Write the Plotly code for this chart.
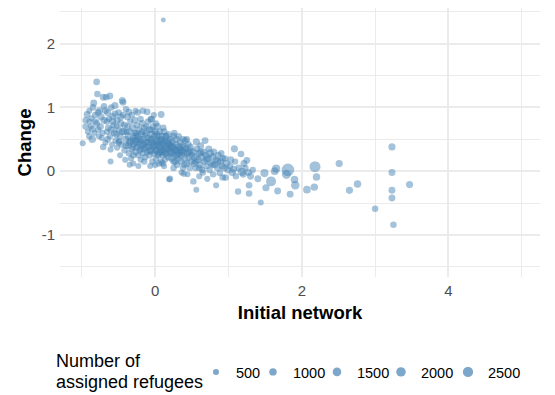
import plotly.graph_objects as go
import math

# (initial network, change, number of assigned refugees)
initial_network = [
    -0.99, -0.93, -0.95, -0.90, -0.88, -0.92, -0.86, -0.85, -0.84, -0.80, -0.79, -0.82, -0.80, -0.78, -0.76, -0.74,
    -0.72, -0.71, -0.73, -0.70, -0.71, -0.77, -0.83, -0.87, -0.90,
    -0.67, -0.62, -0.65, -0.66, -0.64, -0.62, -0.61, -0.61, -0.60, -0.58, -0.57, -0.56, -0.55, -0.54, -0.52, -0.52,
    -0.50, -0.50, -0.48, -0.48, -0.47, -0.46, -0.45, -0.44, -0.44, -0.43, -0.42, -0.41, -0.40, -0.40, -0.68, -0.66,
    -0.59, -0.63, -0.53, -0.49,
    -0.38, -0.38, -0.37, -0.37, -0.36, -0.36, -0.35, -0.34, -0.34, -0.33, -0.32, -0.32, -0.31, -0.30, -0.30, -0.29,
    -0.28, -0.28, -0.27, -0.26, -0.25, -0.25, -0.24, -0.24, -0.23, -0.22, -0.22, -0.21, -0.20, -0.20, -0.19, -0.18,
    -0.18, -0.17, -0.17, -0.16, -0.15, -0.15, -0.14, -0.13, -0.12, -0.11, -0.11, -0.10, -0.10, -0.39, -0.35, -0.27,
    -0.23, -0.19, -0.14, -0.26, -0.31,
    -0.09, -0.08, -0.08, -0.07, -0.06, -0.06, -0.05, -0.05, -0.04, -0.04, -0.03, -0.03, -0.02, -0.01, 0.00, 0.00,
    0.01, 0.02, 0.02, 0.03, 0.04, 0.04, 0.05, 0.06, 0.06, 0.07, 0.08, 0.08, 0.08, 0.09, 0.10, 0.10, 0.11, 0.11,
    0.12, 0.12, 0.13, 0.13, 0.14, 0.15, 0.15, 0.16, 0.17, 0.18, 0.18, 0.19, 0.19, 0.20, -0.02, 0.01, 0.05, 0.12,
    -0.07,
    0.20, 0.21, 0.22, 0.22, 0.23, 0.24, 0.25, 0.25, 0.26, 0.27, 0.28, 0.28, 0.29, 0.30, 0.30, 0.31, 0.32, 0.33,
    0.34, 0.35, 0.35, 0.36, 0.37, 0.38, 0.39, 0.39, 0.40, 0.41, 0.42, 0.43, 0.44, 0.45, 0.46, 0.47, 0.48, 0.49,
    0.50, 0.26, 0.32, 0.38, 0.43, 0.36, 0.44,
    0.52, 0.52, 0.53, 0.54, 0.55, 0.56, 0.56, 0.57, 0.58, 0.60, 0.61, 0.62, 0.63, 0.64, 0.65, 0.66, 0.67, 0.68,
    0.69, 0.70, 0.72, 0.73, 0.74, 0.75, 0.76, 0.78, 0.79, 0.80, 0.81, 0.83, 0.83, 0.85, 0.86, 0.88, 0.89, 0.90,
    0.91, 0.92, 0.94, 0.95, 0.96, 0.97, 0.99, 0.60, 0.71,
    1.02, 1.03, 1.05, 1.07, 1.08, 1.09, 1.10, 1.13, 1.14, 1.17, 1.18, 1.20, 1.21, 1.23, 1.25, 1.27, 1.28, 1.28,
    1.30, 1.33, 1.44, 1.40,
    1.49, 1.51, 1.58, 1.63, 1.65, 1.67, 1.79, 1.81, 1.84, 1.90, 1.91, 2.07, 2.17, 2.20, 2.18, 2.51, 2.65, 2.76,
    3.00, 3.23, 3.23, 3.23, 3.23, 3.25, 3.47,
    -0.35, -0.30, -0.27, -0.22, -0.20, -0.16, -0.12, -0.10, -0.08, -0.05, -0.02, 0.00, 0.03, 0.05, 0.07,
    0.09, 0.11, 0.14, 0.16, 0.18, 0.20, 0.22, 0.24, 0.27, 0.30, 0.33, 0.36, 0.40, 0.45,
    -0.25, -0.18, -0.12, -0.05, 0.02, 0.08, 0.14, -0.30, -0.15, 0.00, 0.10, 0.25, 0.40,
    -0.95, -0.90, -0.86, -0.82, -0.78, -0.75, -0.70, -0.68, -0.65, -0.60, -0.58, -0.55, -0.53, -0.50, -0.47,
    -0.45, -0.42, -0.40,
    0.55, 0.62, 0.70, 0.78, 0.85, 0.92, 0.60, 0.48,
]
change = [
    0.44, 0.89, 0.80, 0.78, 0.70, 0.62, 0.50, 1.00, 1.07, 1.40, 1.21, 0.88, 0.75, 0.65, 0.95, 0.85,
    0.60, 0.38, 0.52, 1.02, 1.16, 0.55, 0.60, 0.83, 0.95,
    1.16, 1.18, 0.92, 0.78, 0.68, 0.55, 0.34, 0.15, 1.00, 0.86, 0.72, 0.60, 1.03, 0.48, 0.37, 0.80,
    0.92, 0.65, 0.55, 0.25, 0.75, 0.42, 1.11, 1.08, 0.88, 0.62, 0.33, 0.18, 0.50, 0.97, 0.45, 0.62,
    0.42, 0.82, 0.70, 0.47,
    0.85, 0.70, 0.55, 0.40, 0.93, 0.28, 0.62, 0.78, 0.47, 0.20, 0.88, 0.35, 0.68, 0.52, 0.12, 0.42,
    0.80, 0.60, 0.30, 0.48, 0.72, 0.38, 0.92, 0.55, 0.25, 0.65, 0.44, 0.33, 0.82, 0.18, 0.58, 0.75,
    0.40, 0.95, 0.28, 0.50, 0.68, 0.35, 0.22, 0.45, 0.60, 0.93, 0.30, 0.78, 0.52, 0.62, 0.10, 0.95,
    0.08, 0.48, 0.57, 0.60, 0.48,
    0.40, 0.65, 0.25, 0.50, 0.82, 0.33, 0.81, 0.58, 0.45, 0.15, 0.70, 0.38, 0.28, 0.55, 0.42, 0.62,
    0.20, 0.48, 0.33, 0.70, 0.55, 0.25, 0.40, 0.62, 0.30, 0.48, 0.89, 0.35, 0.15, 0.55, 0.42, 0.25, 2.37, 0.68,
    0.62, 0.32, 0.48, 0.18, 0.38, 0.55, 0.27, 0.45, 0.35, 0.58, 0.22, 0.42, -0.13, 0.30, 0.88, 0.75, 0.12, 0.08,
    0.08,
    -0.12, 0.50, 0.38, 0.20, 0.45, 0.28, 0.05, 0.55, 0.35, 0.15, 0.42, 0.25, 0.50, 0.32, 0.10, 0.20, 0.38, 0.28,
    0.45, 0.15, 0.33, 0.25, 0.40, 0.05, -0.04, 0.30, 0.20, 0.48, 0.35, 0.12, 0.28, 0.42, 0.22, 0.05, 0.32, 0.15,
    0.25, 0.60, 0.55, 0.50, 0.50, -0.02, -0.05,
    -0.16, 0.30, 0.12, 0.22, 0.05, 0.46, -0.29, 0.35, 0.18, 0.28, 0.10, 0.40, 0.22, 0.02, -0.02, 0.30, 0.15, 0.48,
    0.25, 0.08, 0.20, 0.35, 0.02, 0.28, 0.12, 0.22, -0.05, 0.30, 0.10, -0.22, 0.18, 0.05, 0.25, -0.03, 0.15, 0.28,
    0.08, -0.10, 0.05, 0.20, -0.10, 0.12, 0.02, -0.08, -0.12,
    0.08, 0.18, -0.02, 0.03, 0.35, 0.15, -0.08, -0.32, 0.05, 0.27, -0.01, -0.05, 0.12, 0.05, 0.17, -0.02, -0.22, -0.35,
    -0.08, 0.02, -0.49, -0.12,
    -0.03, -0.26, -0.16, 0.00, 0.04, -0.31, -0.05, 0.02, -0.36, -0.13, -0.22, -0.29, -0.25, -0.09, 0.07, 0.12, -0.30, -0.20,
    -0.59, 0.38, -0.02, -0.30, -0.42, -0.84, -0.21,
    0.45, 0.38, 0.55, 0.50, 0.35, 0.42, 0.38, 0.45, 0.32, 0.50, 0.40, 0.32, 0.45, 0.28, 0.38,
    0.30, 0.45, 0.28, 0.35, 0.48, 0.40, 0.30, 0.38, 0.32, 0.25, 0.35, 0.30, 0.38, 0.30,
    0.45, 0.62, 0.70, 0.65, 0.58, 0.50, 0.55, 0.25, 0.15, 0.10, 0.12, 0.15, 0.10,
    0.70, 0.55, 0.66, 0.78, 0.92, 0.70, 0.80, 0.95, 0.50, 0.65, 0.78, 0.90, 0.58, 0.45, 0.85,
    0.62, 0.72, 0.40,
    0.15, 0.30, 0.18, 0.10, 0.15, 0.20, 0.05, 0.38,
]
refugees = [
    500, 800, 650, 500, 550, 500, 1000, 700, 800, 700, 650, 650, 800, 650, 800, 900,
    550, 650, 500, 650, 800, 500, 500, 550, 500,
    700, 800, 900, 650, 800, 650, 550, 500, 650, 800, 650, 800, 900, 650, 550, 800,
    700, 650, 800, 500, 900, 650, 850, 800, 650, 700, 650, 550, 800, 650, 500, 500,
    500, 550, 500, 650,
    800, 650, 900, 800, 700, 650, 800, 650, 1000, 550, 650, 800, 900, 800, 500, 650,
    800, 650, 800, 1100, 700, 800, 650, 800, 650, 800, 900, 800, 650, 550, 800, 700,
    1000, 650, 800, 900, 800, 800, 650, 1100, 800, 700, 800, 650, 900, 500, 500, 500,
    500, 650, 700, 650, 650,
    1000, 800, 800, 900, 650, 1100, 800, 800, 1000, 650, 700, 900, 800, 900, 1300, 800,
    650, 1000, 900, 800, 800, 800, 1400, 700, 900, 1000, 800, 900, 650, 800, 1100, 800, 250, 650,
    800, 1000, 900, 650, 1300, 800, 900, 1000, 900, 700, 800, 1000, 500, 900, 550, 650, 650, 550,
    500,
    650, 800, 1100, 800, 900, 1000, 650, 700, 900, 800, 1000, 1100, 800, 900, 650, 800, 1000, 900,
    800, 800, 1100, 900, 800, 650, 550, 1000, 900, 800, 800, 800, 900, 800, 1000, 650, 800, 900,
    800, 650, 650, 700, 650, 550, 500,
    650, 900, 800, 1000, 650, 900, 500, 800, 1100, 900, 800, 800, 1000, 700, 650, 900, 800, 800,
    900, 700, 900, 800, 650, 1100, 800, 900, 650, 800, 900, 550, 800, 800, 900, 650, 800, 650,
    900, 650, 800, 650, 700, 900, 800, 550, 550,
    800, 800, 900, 800, 900, 650, 650, 650, 800, 700, 1300, 800, 800, 650, 800, 800, 700, 700,
    800, 650, 500, 800,
    1300, 900, 2300, 1100, 1300, 800, 1800, 4200, 800, 1100, 1500, 1100, 1000, 1000, 3000, 900, 900, 1000,
    650, 900, 800, 800, 800, 650, 900,
    900, 800, 900, 1000, 900, 800, 1000, 900, 900, 1000, 1100, 900, 1000, 800, 1100,
    900, 1000, 900, 1000, 800, 900, 1000, 900, 1000, 900, 800, 900, 800, 900,
    800, 800, 700, 700, 800, 900, 700, 700, 600, 600, 700, 800, 700,
    700, 600, 800, 700, 800, 900, 800, 700, 700, 900, 800, 700, 800, 700, 800,
    900, 800, 800,
    800, 900, 800, 700, 900, 700, 700, 800,
]

legend_values = [500, 1000, 1500, 2000, 2500]
legend_entry_widths = [12, 19, 19, 22, None]   # px reserved for each legend label
legend_title_lines = ["Number of", "assigned refugees"]
x_tickvals = [0, 2, 4]
y_tickvals = [-1, 0, 1, 2]

POINT_COLOR = "rgba(70,130,180,0.7)"


def size_scale(n):
    # area-style size scale: diameter (px) grows with sqrt of the count
    return 2.52 + 0.1556 * math.sqrt(n)


fig = go.Figure()
fig.add_trace(go.Scatter(
    x=initial_network, y=change, mode="markers", showlegend=False,
    marker=dict(color=POINT_COLOR, size=[size_scale(v) for v in refugees], line=dict(width=0)),
    hoverinfo="skip",
))
for v, w in zip(legend_values, legend_entry_widths):
    tr = go.Scatter(
        x=[None], y=[None], mode="markers", name=str(v),
        marker=dict(color=POINT_COLOR, size=size_scale(v), line=dict(width=0)),
    )
    if w is not None:
        tr.legendwidth = w
    fig.add_trace(tr)

FONT = "Liberation Sans, Arial, sans-serif"
for line, yp in zip(legend_title_lines, [-0.313, -0.389]):
    fig.add_annotation(
        text=line, xref="paper", yref="paper", x=-0.0104, y=yp, xanchor="left", yanchor="middle",
        showarrow=False, font=dict(size=18, color="black"), borderpad=0,
    )

fig.update_layout(
    width=555, height=395,
    margin=dict(l=60, r=15, t=8, b=117),
    paper_bgcolor="white", plot_bgcolor="white",
    font=dict(family=FONT, color="black"),
    xaxis=dict(
        range=[-1.3, 5.25], tickvals=x_tickvals, ticktext=[str(v) for v in x_tickvals],
        showgrid=True, gridcolor="#EBEBEB", gridwidth=1.8, zeroline=False, showline=False,
        ticks="", tickfont=dict(size=15, color="#4D4D4D"), automargin=False, ticklabelstandoff=3,
        minor=dict(dtick=1, tick0=0, showgrid=True, gridcolor="#EBEBEB", gridwidth=0.9),
        title=dict(text="<b>Initial network</b>", font=dict(size=18.5, color="black"), standoff=8),
    ),
    yaxis=dict(
        range=[-1.66, 2.56], tickvals=y_tickvals, ticktext=[str(v) for v in y_tickvals],
        showgrid=True, gridcolor="#EBEBEB", gridwidth=1.8, zeroline=False, showline=False,
        ticks="", tickfont=dict(size=15, color="#4D4D4D"), ticklabelstandoff=4, automargin=False,
        minor=dict(dtick=0.5, tick0=0, showgrid=True, gridcolor="#EBEBEB", gridwidth=0.9),
        title=dict(text="<b>Change</b>", font=dict(size=18.5, color="black"), standoff=5),
    ),
    legend=dict(
        orientation="h", x=0.2833, xanchor="left", y=-0.348, yanchor="middle",
        font=dict(size=14.5, color="black"), itemwidth=30, tracegroupgap=0,
    ),
)
# remove the default 8px page margin so the figure fills the window exactly
fig.write_html(
    "out.html",
    config={"displayModeBar": False},
    post_script="document.body.style.margin='0px';",
)
